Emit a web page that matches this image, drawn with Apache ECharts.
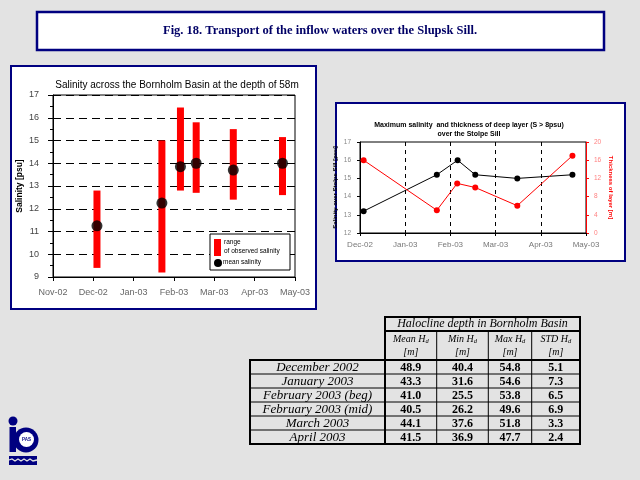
<!DOCTYPE html>
<html><head><meta charset="utf-8">
<script src="https://cdn.jsdelivr.net/npm/echarts@6/dist/echarts.min.js"></script>
<style>html,body{margin:0;padding:0;background:#e3e3e3}#c{width:640px;height:480px}</style>
</head><body><div id="c"></div>
<script>
// ---- Chart 1: salinity across Bornholm Basin at 58 m ----
const monthLabels1 = ['Nov-02','Dec-02','Jan-03','Feb-03','Mar-03','Apr-03','May-03'];
const rangeX = [1.09, 2.70, 3.16, 3.55, 4.47, 5.69];     // months since Nov-02
const rangeLow = [9.4, 9.2, 12.8, 12.7, 12.4, 12.6];
const rangeHigh = [12.8, 15.0, 16.45, 15.8, 15.5, 15.15];
const meanSal = [11.25, 12.25, 13.85, 14.0, 13.7, 14.0];

// ---- Chart 2: max salinity and thickness over Stolpe Sill ----
const monthLabels2 = ['Dec-02','Jan-03','Feb-03','Mar-03','Apr-03','May-03'];
const maxSalX = [0.08, 1.70, 2.16, 2.55, 3.48, 4.70];    // months since Dec-02
const maxSal = [13.2, 15.2, 16.0, 15.2, 15.0, 15.2];
const thickX = [0.08, 1.70, 2.15, 2.55, 3.48, 4.70];
const thickness = [16.0, 5.0, 10.9, 10.0, 6.0, 17.0];

// ---- Table: halocline depth in Bornholm Basin ----
const rowLabels = ['December 2002','January 2003','February 2003 (beg)','February 2003 (mid)','March 2003','April 2003'];
const colHeads = ['Mean H','Min H','Max H','STD H'];
const meanH = [48.9, 43.3, 41.0, 40.5, 44.1, 41.5];
const minH = [40.4, 31.6, 25.5, 26.2, 37.6, 36.9];
const maxH = [54.8, 54.6, 53.8, 49.6, 51.8, 47.7];
const stdH = [5.1, 7.3, 6.5, 6.9, 3.3, 2.4];

const NAVY = '#000080';
const SANS = 'Liberation Sans';
const SERIF = 'Liberation Serif';

const graphics = [];
// title box
graphics.push({type:'rect', z:-5, shape:{x:37,y:12,width:567,height:38}, style:{fill:'#fff', stroke:NAVY, lineWidth:2.5}});
graphics.push({type:'text', x:320, y:31, style:{text:'Fig. 18. Transport of the inflow waters over the Slupsk Sill.', font:'bold 12.5px "'+SERIF+'"', fill:'#000066', textAlign:'center', textVerticalAlign:'middle'}});
// chart boxes
graphics.push({type:'rect', z:-5, shape:{x:11,y:66,width:305,height:243}, style:{fill:'#fff', stroke:NAVY, lineWidth:2}});
graphics.push({type:'rect', z:-5, shape:{x:336,y:103,width:289,height:158}, style:{fill:'#fff', stroke:NAVY, lineWidth:2}});
// chart1 legend
graphics.push({type:'rect', z:5, shape:{x:210,y:234,width:80,height:36}, style:{fill:'#fff', stroke:'#000', lineWidth:1}});
graphics.push({type:'rect', z:6, shape:{x:214,y:239,width:7,height:17}, style:{fill:'#ff0000'}});
graphics.push({type:'circle', z:6, shape:{cx:218,cy:263,r:4}, style:{fill:'#000'}});
graphics.push({type:'text', z:6, x:224, y:242, style:{text:'range', font:'6.5px "'+SANS+'"', fill:'#000', textVerticalAlign:'middle'}});
graphics.push({type:'text', z:6, x:224, y:251, style:{text:'of observed salinity', font:'6.5px "'+SANS+'"', fill:'#000', textVerticalAlign:'middle'}});
graphics.push({type:'text', z:6, x:223, y:262, style:{text:'mean salinity', font:'6.5px "'+SANS+'"', fill:'#000', textVerticalAlign:'middle'}});

// table
const T = {x0:250, xc:[385, 436.7, 488.3, 531.7, 580], yh:317, ys:331, yd:360, rh:14};
const yEnd = T.yd + T.rh*rowLabels.length;
graphics.push({type:'rect', shape:{x:T.xc[0], y:T.yh, width:T.xc[4]-T.xc[0], height:T.ys-T.yh}, style:{fill:'none', stroke:'#000', lineWidth:2}});
graphics.push({type:'text', x:(T.xc[0]+T.xc[4])/2, y:(T.yh+T.ys)/2, style:{text:'Halocline depth in Bornholm Basin', font:'italic 12px "'+SERIF+'"', fill:'#000', textAlign:'center', textVerticalAlign:'middle'}});
// subheader
graphics.push({type:'line', shape:{x1:T.xc[0], y1:T.ys, x2:T.xc[0], y2:T.yd}, style:{stroke:'#000', lineWidth:2}});
graphics.push({type:'line', shape:{x1:T.xc[4], y1:T.ys, x2:T.xc[4], y2:T.yd}, style:{stroke:'#000', lineWidth:2}});
for (let j = 1; j < 4; j++) {
  graphics.push({type:'line', shape:{x1:T.xc[j], y1:T.ys, x2:T.xc[j], y2:yEnd}, style:{stroke:'#000', lineWidth:1}});
}
colHeads.forEach((h, j) => {
  const cx = (T.xc[j]+T.xc[j+1])/2;
  graphics.push({type:'text', x:cx, y:339, style:{text:'{a|'+h+'}{s|d}', rich:{a:{font:'italic 10px "'+SERIF+'"', fill:'#000'}, s:{font:'italic 6.5px "'+SERIF+'"', fill:'#000', padding:[4,0,0,0]}}, textAlign:'center', textVerticalAlign:'middle'}});
  graphics.push({type:'text', x:cx, y:352, style:{text:'[m]', font:'italic 10px "'+SERIF+'"', fill:'#000', textAlign:'center', textVerticalAlign:'middle'}});
});
graphics.push({type:'rect', shape:{x:T.x0, y:T.yd, width:T.xc[4]-T.x0, height:yEnd-T.yd}, style:{fill:'none', stroke:'#000', lineWidth:2}});
graphics.push({type:'line', shape:{x1:T.xc[0], y1:T.yd, x2:T.xc[0], y2:yEnd}, style:{stroke:'#000', lineWidth:2}});
const cols = [meanH, minH, maxH, stdH];
rowLabels.forEach((lab, i) => {
  const cy = T.yd + T.rh*i + T.rh/2;
  if (i > 0) graphics.push({type:'line', shape:{x1:T.x0, y1:T.yd+T.rh*i, x2:T.xc[4], y2:T.yd+T.rh*i}, style:{stroke:'#000', lineWidth:1}});
  graphics.push({type:'text', x:(T.x0+T.xc[0])/2, y:cy+0.5, style:{text:lab, font:'italic 13px "'+SERIF+'"', fill:'#000', textAlign:'center', textVerticalAlign:'middle'}});
  cols.forEach((c, j) => {
    graphics.push({type:'text', x:(T.xc[j]+T.xc[j+1])/2, y:cy+0.5, style:{text:c[i].toFixed(1), font:'bold 12px "'+SERIF+'"', fill:'#000', textAlign:'center', textVerticalAlign:'middle'}});
  });
});

// logo
graphics.push({type:'circle', shape:{cx:13,cy:421,r:4.5}, style:{fill:NAVY}});
graphics.push({type:'rect', shape:{x:9.5,y:427,width:6.5,height:25}, style:{fill:NAVY}});
graphics.push({type:'circle', shape:{cx:26,cy:440,r:12.5}, style:{fill:NAVY}});
graphics.push({type:'circle', shape:{cx:26.5,cy:439.5,r:7.5}, style:{fill:'#fff'}});
graphics.push({type:'text', x:26.5, y:439.5, style:{text:'PAS', font:'bold 4.5px "'+SANS+'"', fill:NAVY, textAlign:'center', textVerticalAlign:'middle'}});
graphics.push({type:'rect', shape:{x:9,y:456,width:28,height:9}, style:{fill:NAVY}});
graphics.push({type:'polyline', shape:{points:[[9,460],[12,459],[15,461],[18,459],[21,461],[24,459],[27,461],[30,459],[33,461],[37,460]]}, style:{stroke:'#e3e3e3', lineWidth:1.3, fill:'none'}});

const chart = echarts.init(document.getElementById('c'), null, {renderer:'canvas'});
chart.setOption({
  backgroundColor:'#e3e3e3',
  animation:false,
  textStyle:{fontFamily:SANS},
  title:[
    {text:'Salinity across the Bornholm Basin at the depth of 58m', left:172, top:75, textAlign:'center',
     textStyle:{fontSize:10, fontWeight:'normal', color:'#000', fontFamily:SANS}},
    {text:'Maximum salinity  and thickness of deep layer (S > 8psu)\nover the Stolpe Sill', left:464, top:116, textAlign:'center',
     textStyle:{fontSize:7, fontWeight:'bold', color:'#000', lineHeight:9, fontFamily:SANS}}
  ],
  graphic:{elements:graphics},
  grid:[
    {left:53, top:95, width:242, height:182, show:true, borderColor:'#000', borderWidth:1, backgroundColor:'transparent'},
    {left:360, top:142, width:226, height:91, show:true, borderColor:'#000', borderWidth:1, backgroundColor:'transparent'}
  ],
  xAxis:[
    {gridIndex:0, type:'value', min:0, max:6, interval:1,
     axisLine:{lineStyle:{color:'#000'}}, axisTick:{length:4, lineStyle:{color:'#000'}},
     axisLabel:{color:'#666', fontSize:9, margin:11, formatter:v => monthLabels1[v]},
     splitLine:{show:false}},
    {gridIndex:1, type:'value', min:0, max:5, interval:1,
     axisLine:{lineStyle:{color:'#000'}}, axisTick:{length:3, lineStyle:{color:'#000'}},
     axisLabel:{color:'#777', fontSize:8, margin:8, formatter:v => monthLabels2[v]},
     splitLine:{show:true, lineStyle:{color:'#000', type:[4,4], width:1}}}
  ],
  yAxis:[
    {gridIndex:0, type:'value', min:9, max:17, interval:1,
     name:'Salinity [psu]', nameLocation:'middle', nameGap:29, nameRotate:90,
     nameTextStyle:{fontSize:8.5, fontWeight:'bold', color:'#000'},
     axisLine:{show:true, lineStyle:{color:'#000'}}, axisTick:{length:5, lineStyle:{color:'#000'}},
     minorTick:{show:true, splitNumber:2, length:3, lineStyle:{color:'#000'}},
     axisLabel:{color:'#444', fontSize:9, margin:14},
     splitLine:{show:true, lineStyle:{color:'#000', type:[8,5], width:1}}},
    {gridIndex:1, type:'value', min:12, max:17, interval:1,
     name:'Salinity over Stolpe Sill [psu]', nameLocation:'middle', nameGap:22, nameRotate:90,
     nameTextStyle:{fontSize:6, fontWeight:'bold', color:'#000'},
     axisLine:{show:true, lineStyle:{color:'#000'}}, axisTick:{length:3, lineStyle:{color:'#000'}},
     axisLabel:{color:'#888', fontSize:6.5, margin:9},
     splitLine:{show:false}},
    {gridIndex:1, type:'value', min:0, max:20, interval:4, position:'right',
     name:'Thickness of layer [m]', nameLocation:'middle', nameGap:22, nameRotate:-90,
     nameTextStyle:{fontSize:6, fontWeight:'bold', color:'#ff0000'},
     axisLine:{show:true, lineStyle:{color:'#ff0000'}}, axisTick:{length:3, lineStyle:{color:'#ff0000'}},
     axisLabel:{color:'#ff8080', fontSize:6.5, margin:8},
     splitLine:{show:false}}
  ],
  series:[
    {type:'custom', xAxisIndex:0, yAxisIndex:0, z:3,
     data: rangeX.map((x, i) => [x, rangeLow[i], rangeHigh[i]]),
     encode:{x:0, y:[1,2]},
     renderItem:(params, api) => {
       const x = api.value(0);
       const top = api.coord([x, api.value(2)]);
       const bot = api.coord([x, api.value(1)]);
       return {type:'rect', shape:{x:top[0]-3.5, y:top[1], width:7, height:bot[1]-top[1]},
               style:{fill:'#ff0000'}};
     }},
    {type:'scatter', xAxisIndex:0, yAxisIndex:0, z:4, symbol:'circle', symbolSize:11,
     itemStyle:{color:'#000'},
     data: rangeX.map((x, i) => [x, meanSal[i]])},
    {type:'line', xAxisIndex:1, yAxisIndex:1, z:4, symbol:'circle', symbolSize:6,
     lineStyle:{color:'#000', width:1}, itemStyle:{color:'#000'},
     data: maxSalX.map((x, i) => [x, maxSal[i]])},
    {type:'line', xAxisIndex:1, yAxisIndex:2, z:4, symbol:'circle', symbolSize:6,
     lineStyle:{color:'#ff0000', width:1}, itemStyle:{color:'#ff0000'},
     data: thickX.map((x, i) => [x, thickness[i]])}
  ]
});
</script></body></html>
